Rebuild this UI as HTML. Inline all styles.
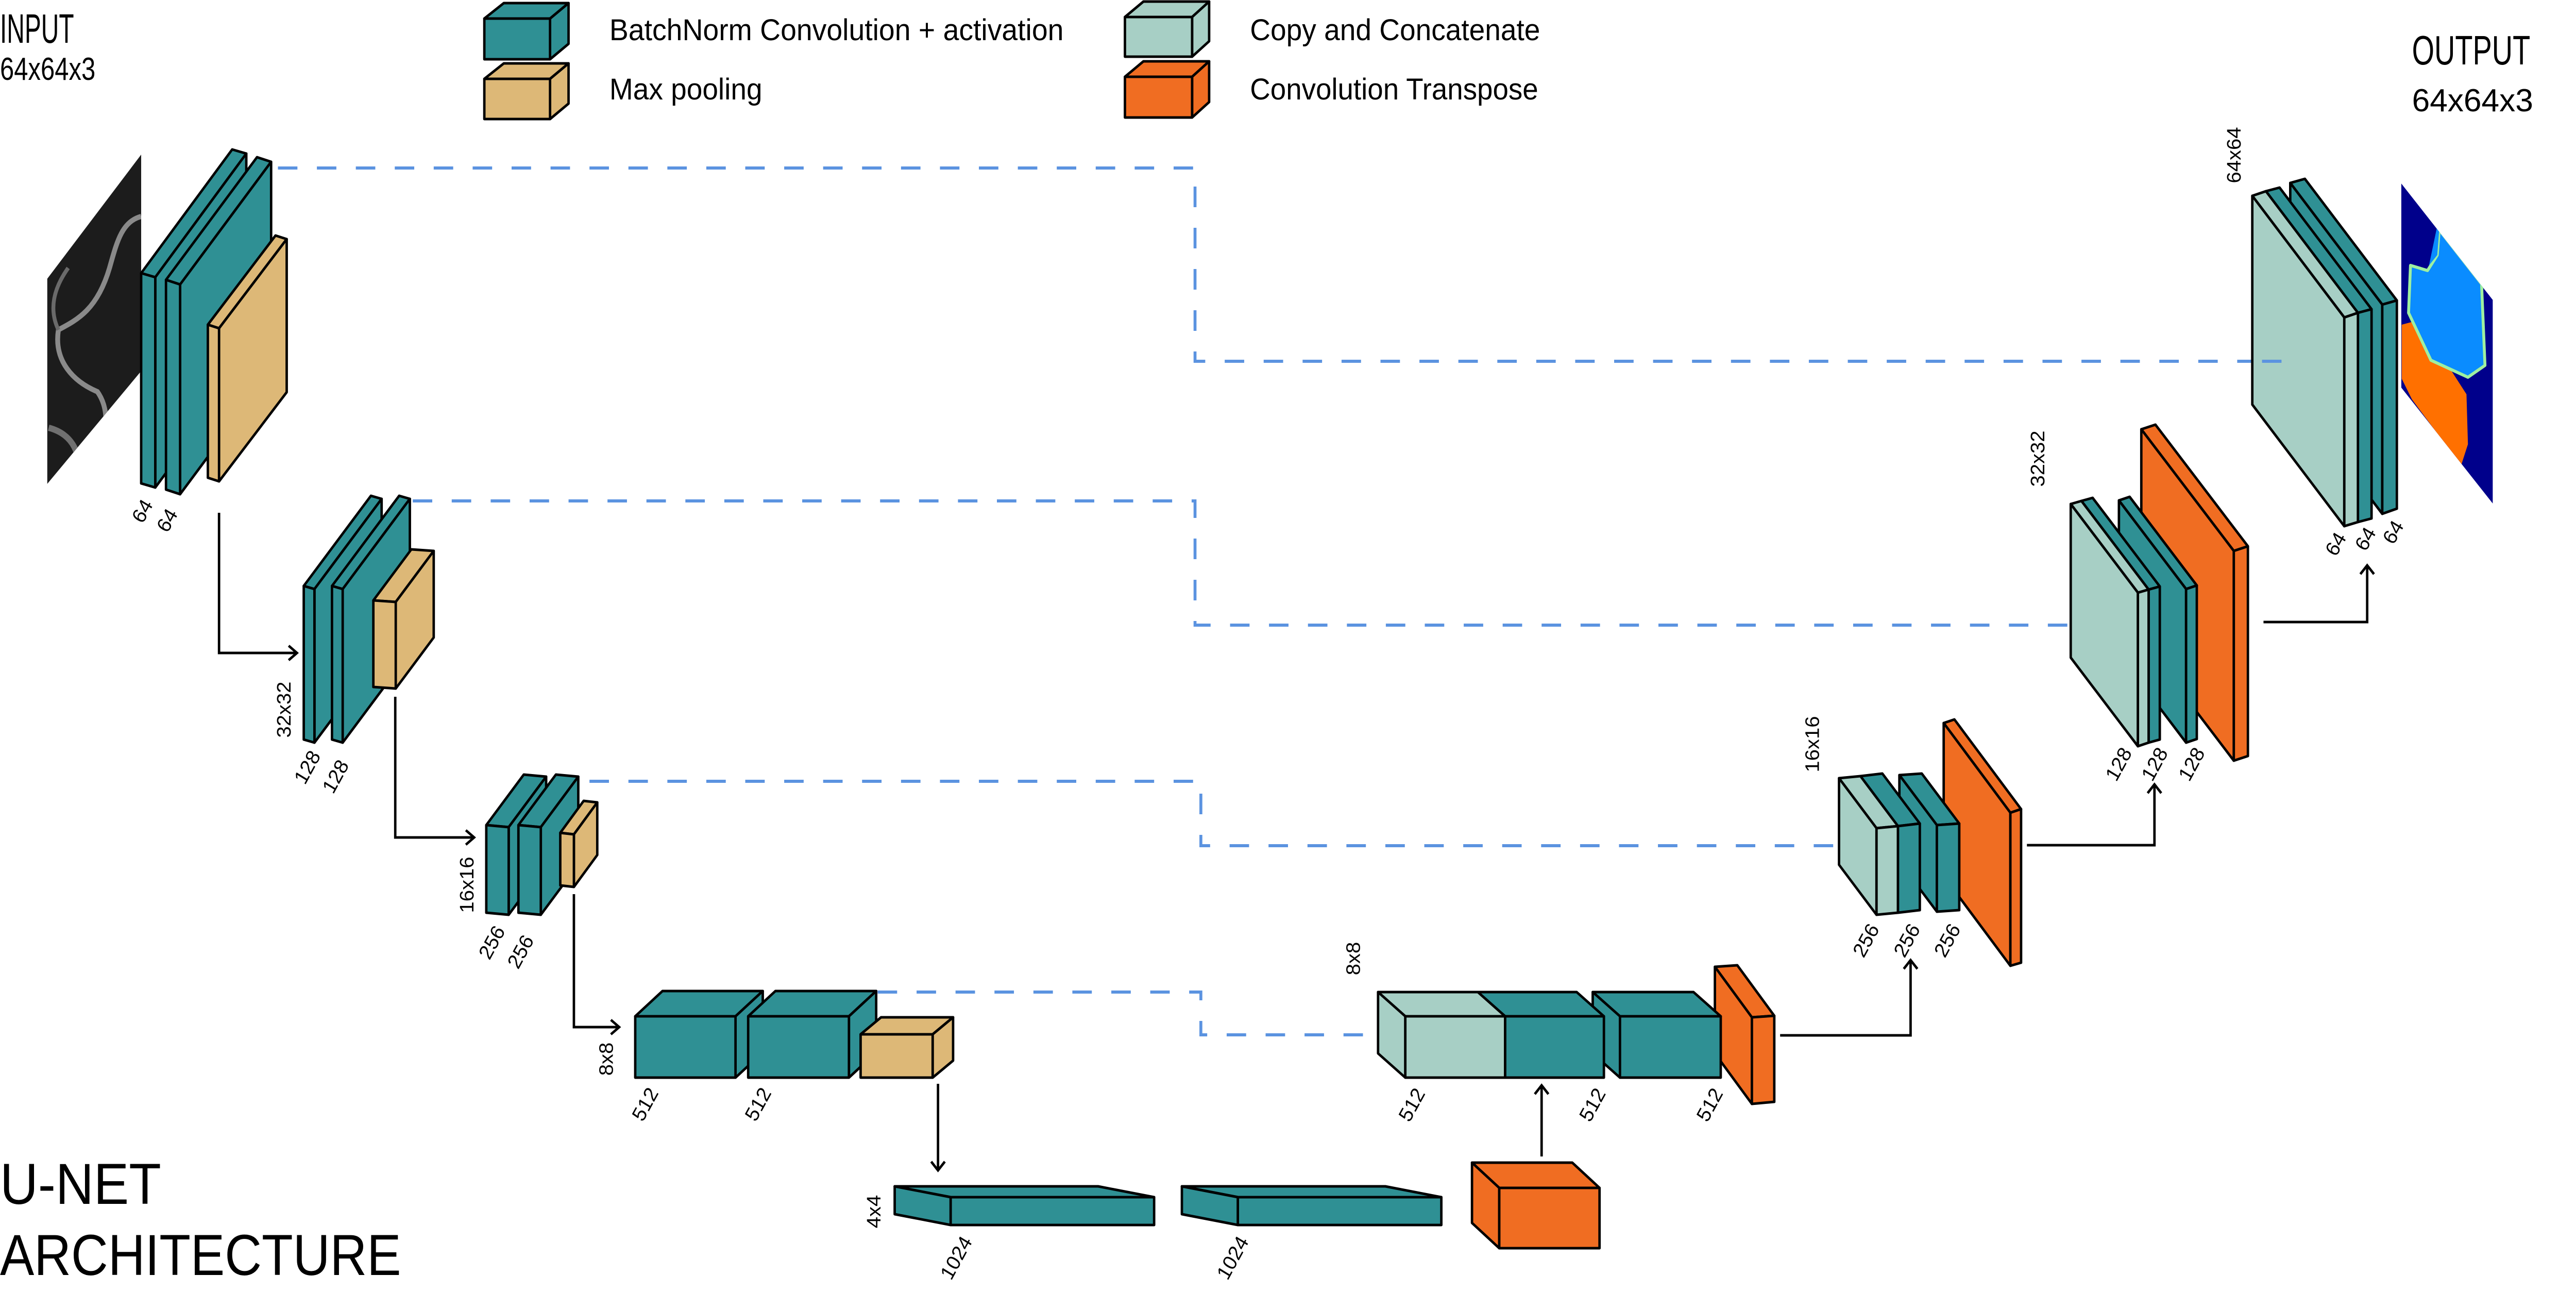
<!DOCTYPE html>
<html><head><meta charset="utf-8"><style>
html,body{margin:0;padding:0;background:#fff;overflow:hidden;width:100vw;height:100vh;}
svg{display:block;position:absolute;left:0;top:0;width:100vw;height:100vh;}
text{font-family:"Liberation Sans",sans-serif;fill:#000;}
.t{fill:#2f9094}.p{fill:#ddb877}.m{fill:#a7cfc5}.o{fill:#f06d22}
polygon{stroke:#000;stroke-width:5;stroke-linejoin:round;}
.d{fill:none;stroke:#5b93e0;stroke-width:6;stroke-dasharray:40 40;}
.a{fill:none;stroke:#000;stroke-width:5;}
.l{font-size:40px;text-anchor:middle;dominant-baseline:central;}
</style></head><body>
<svg viewBox="0 0 5292 2507" preserveAspectRatio="none" xmlns="http://www.w3.org/2000/svg">
<rect width="5292" height="2507" fill="#fff"/>
<text x="0" y="83" font-size="80" textLength="152" lengthAdjust="spacingAndGlyphs">INPUT</text>
<text x="0" y="155" font-size="62" textLength="196" lengthAdjust="spacingAndGlyphs">64x64x3</text>
<text x="4955" y="125" font-size="80" textLength="243" lengthAdjust="spacingAndGlyphs">OUTPUT</text>
<text x="4955" y="216" font-size="62" textLength="249" lengthAdjust="spacingAndGlyphs">64x64x3</text>
<text x="0" y="2336" font-size="112" textLength="331" lengthAdjust="spacingAndGlyphs">U-NET</text>
<text x="0" y="2474" font-size="112" textLength="824" lengthAdjust="spacingAndGlyphs">ARCHITECTURE</text>
<g>
<polygon class="t" points="995,36 1035,6 1168,6 1130,36"/><polygon class="t" points="1130,36 1168,6 1168,85 1130,115"/><polygon class="t" points="995,36 1130,36 1130,115 995,115"/>
<polygon class="p" points="995,153 1035,123 1168,123 1130,153"/><polygon class="p" points="1130,153 1168,123 1168,201 1130,231"/><polygon class="p" points="995,153 1130,153 1130,231 995,231"/>
<polygon class="m" points="2311,33 2349,3 2484,3 2449,33"/><polygon class="m" points="2449,33 2484,3 2484,80 2449,110"/><polygon class="m" points="2311,33 2449,33 2449,110 2311,110"/>
<polygon class="o" points="2311,149 2349,119 2484,119 2449,149"/><polygon class="o" points="2449,149 2484,119 2484,198 2449,228"/><polygon class="o" points="2311,149 2449,149 2449,228 2311,228"/>
<text x="1252" y="78" font-size="58" textLength="933" lengthAdjust="spacingAndGlyphs">BatchNorm Convolution + activation</text>
<text x="1252" y="193" font-size="58" textLength="314" lengthAdjust="spacingAndGlyphs">Max pooling</text>
<text x="2568" y="78" font-size="58" textLength="596" lengthAdjust="spacingAndGlyphs">Copy and Concatenate</text>
<text x="2568" y="193" font-size="58" textLength="592" lengthAdjust="spacingAndGlyphs">Convolution Transpose</text>
</g>
<path class="d" d="M571 326 H2455 V701 H4687"/>
<path class="d" d="M848 972 H2455 V1213 H4289"/>
<path class="d" d="M1211 1516 H2467 V1641 H3798"/>
<path class="d" d="M1803 1925 H2467 V2008 H2820"/>
<defs><clipPath id="ci"><polygon points="97,541 290,300 290,720 97,939" style="stroke:none"/></clipPath>
<clipPath id="co"><polygon points="4933,356 5121,582 5121,977 4933,752" style="stroke:none"/></clipPath></defs>
<g clip-path="url(#ci)">
<rect x="90" y="290" width="210" height="660" fill="#1c1c1c"/>
<path d="M290 420 C250 430 240 470 225 520 C200 600 160 620 120 640 C110 700 150 740 200 760 C230 800 220 860 180 900" fill="none" stroke="#8a8a8a" stroke-width="10"/>
<path d="M120 640 C100 600 110 560 140 520" fill="none" stroke="#6a6a6a" stroke-width="8"/>
<path d="M100 830 C140 840 170 870 160 930" fill="none" stroke="#707070" stroke-width="12"/>
</g>
<polygon class="t" points="290,530 477,290 506,298 319,538"/><polygon class="t" points="319,538 506,298 506,706 319,946"/><polygon class="t" points="290,530 319,538 319,946 290,938"/>
<polygon class="t" points="341,543 528,305 557,314 370,552"/><polygon class="t" points="370,552 557,314 557,721 370,959"/><polygon class="t" points="341,543 370,552 370,959 341,950"/>
<polygon class="p" points="427,630 566,457 589,464 450,637"/><polygon class="p" points="450,637 589,464 589,761 450,934"/><polygon class="p" points="427,630 450,637 450,934 427,927"/>
<polygon class="t" points="624,1137 762,962 784,968 646,1143"/><polygon class="t" points="646,1143 784,968 784,1266 646,1441"/><polygon class="t" points="624,1137 646,1143 646,1441 624,1435"/>
<polygon class="t" points="682,1137 820,962 842,968 704,1143"/><polygon class="t" points="704,1143 842,968 842,1266 704,1441"/><polygon class="t" points="682,1137 704,1143 704,1441 682,1435"/>
<polygon class="p" points="767,1165 845,1066 891,1069 813,1168"/><polygon class="p" points="813,1168 891,1069 891,1237 813,1336"/><polygon class="p" points="767,1165 813,1168 813,1336 767,1333"/>
<polygon class="t" points="999,1601 1076,1503 1122,1507 1045,1605"/><polygon class="t" points="1045,1605 1122,1507 1122,1677 1045,1775"/><polygon class="t" points="999,1601 1045,1605 1045,1775 999,1771"/>
<polygon class="t" points="1065,1601 1142,1503 1188,1507 1111,1605"/><polygon class="t" points="1111,1605 1188,1507 1188,1677 1111,1775"/><polygon class="t" points="1065,1601 1111,1605 1111,1775 1065,1771"/>
<polygon class="p" points="1151,1616 1199,1554 1227,1557 1179,1619"/><polygon class="p" points="1179,1619 1227,1557 1227,1659 1179,1721"/><polygon class="p" points="1151,1616 1179,1619 1179,1721 1151,1718"/>
<polygon class="t" points="1305,1972 1361,1923 1567,1923 1511,1972"/><polygon class="t" points="1511,1972 1567,1923 1567,2042 1511,2091"/><polygon class="t" points="1305,1972 1511,1972 1511,2091 1305,2091"/>
<polygon class="t" points="1537,1972 1593,1923 1800,1923 1744,1972"/><polygon class="t" points="1744,1972 1800,1923 1800,2042 1744,2091"/><polygon class="t" points="1537,1972 1744,1972 1744,2091 1537,2091"/>
<polygon class="p" points="1768,2007 1810,1974 1958,1974 1916,2007"/><polygon class="p" points="1916,2007 1958,1974 1958,2058 1916,2091"/><polygon class="p" points="1768,2007 1916,2007 1916,2091 1768,2091"/>
<polygon class="t" points="1953,2323 1838,2302 2256,2302 2371,2323"/><polygon class="t" points="1953,2323 1838,2302 1838,2356 1953,2377"/><polygon class="t" points="1953,2323 2371,2323 2371,2377 1953,2377"/>
<polygon class="t" points="2543,2323 2428,2302 2846,2302 2961,2323"/><polygon class="t" points="2543,2323 2428,2302 2428,2356 2543,2377"/><polygon class="t" points="2543,2323 2961,2323 2961,2377 2543,2377"/>
<polygon class="o" points="3080,2305 3024,2256 3230,2256 3286,2305"/><polygon class="o" points="3080,2305 3024,2256 3024,2373 3080,2422"/><polygon class="o" points="3080,2305 3286,2305 3286,2422 3080,2422"/>
<polygon class="o" points="3599,1974 3523,1876 3569,1873 3645,1971"/><polygon class="o" points="3599,1974 3523,1876 3523,2044 3599,2142"/><polygon class="o" points="3599,1974 3645,1971 3645,2138 3599,2142"/>
<polygon class="t" points="3328,1972 3272,1925 3479,1925 3535,1972"/><polygon class="t" points="3328,1972 3272,1925 3272,2044 3328,2091"/><polygon class="t" points="3328,1972 3535,1972 3535,2091 3328,2091"/>
<polygon class="t" points="3092,1972 3036,1925 3239,1925 3295,1972"/><polygon class="t" points="3092,1972 3295,1972 3295,2091 3092,2091"/>
<polygon class="m" points="2887,1972 2831,1925 3036,1925 3092,1972"/><polygon class="m" points="2887,1972 2831,1925 2831,2044 2887,2091"/><polygon class="m" points="2887,1972 3092,1972 3092,2091 2887,2091"/>
<polygon class="o" points="4130,1577 3993,1403 4015,1396 4152,1570"/><polygon class="o" points="4130,1577 3993,1403 3993,1700 4130,1874"/><polygon class="o" points="4130,1577 4152,1570 4152,1868 4130,1874"/>
<polygon class="t" points="3979,1601 3902,1504 3948,1501 4025,1598"/><polygon class="t" points="3979,1601 3902,1504 3902,1672 3979,1769"/><polygon class="t" points="3979,1601 4025,1598 4025,1766 3979,1769"/>
<polygon class="t" points="3899,1603 3822,1506 3867,1501 3944,1598"/><polygon class="t" points="3899,1603 3944,1598 3944,1766 3899,1771"/>
<polygon class="m" points="3855,1607 3778,1510 3822,1506 3899,1603"/><polygon class="m" points="3855,1607 3778,1510 3778,1678 3855,1775"/><polygon class="m" points="3855,1607 3899,1603 3899,1771 3855,1775"/>
<polygon class="o" points="4589,1069 4399,833 4428,824 4618,1060"/><polygon class="o" points="4589,1069 4399,833 4399,1240 4589,1476"/><polygon class="o" points="4589,1069 4618,1060 4618,1467 4589,1476"/>
<polygon class="t" points="4491,1143 4353,971 4375,964 4513,1136"/><polygon class="t" points="4491,1143 4353,971 4353,1269 4491,1441"/><polygon class="t" points="4491,1143 4513,1136 4513,1434 4491,1441"/>
<polygon class="t" points="4414,1144 4276,972 4299,966 4437,1138"/><polygon class="t" points="4414,1144 4437,1138 4437,1435 4414,1441"/>
<polygon class="m" points="4392,1150 4254,978 4276,972 4414,1144"/><polygon class="m" points="4392,1150 4254,978 4254,1276 4392,1448"/><polygon class="m" points="4392,1150 4414,1144 4414,1441 4392,1448"/>
<polygon class="t" points="4894,591 4705,355 4735,347 4924,583"/><polygon class="t" points="4894,591 4705,355 4705,761 4894,997"/><polygon class="t" points="4894,591 4924,583 4924,987 4894,997"/>
<polygon class="t" points="4844,607 4655,371 4683,364 4872,600"/><polygon class="t" points="4844,607 4872,600 4872,1006 4844,1013"/>
<polygon class="m" points="4816,616 4627,380 4655,371 4844,607"/><polygon class="m" points="4816,616 4627,380 4627,785 4816,1021"/><polygon class="m" points="4816,616 4844,607 4844,1013 4816,1021"/>
<path class="d" d="M4647 701 H4687"/>
<g clip-path="url(#co)">
<rect x="4925" y="350" width="200" height="630" fill="#00008b"/>
<polygon style="fill:#ff7000;stroke:none" points="4934,630 4966,622 5022,699 5067,765 5070,862 5056,903 4955,775 4934,735"/>
<polygon style="fill:#0a8cff;stroke:#9ff0a0;stroke-width:6" points="5011,446 5098,551 5105,709 5070,732 4994,699 4948,607 4952,515 4987,525 5007,495"/>
<polygon style="fill:#0a8cff;stroke:none" points="5011,420 5130,560 5098,551 5011,446 5007,495 4990,515"/>
</g>
<g class="a">
<path d="M450 995 V1267 H610"/><polyline points="593,1253 610,1267 593,1281"/>
<path d="M812 1352 V1625 H974"/><polyline points="957,1611 974,1625 957,1639"/>
<path d="M1179 1735 V1993 H1272"/><polyline points="1255,1979 1272,1993 1255,2007"/>
<path d="M1927 2103 V2271"/><polyline points="1913,2254 1927,2271 1941,2254"/>
<path d="M3167 2244 V2106"/><polyline points="3153,2123 3167,2106 3181,2123"/>
<path d="M3657 2009 H3925 V1863"/><polyline points="3911,1880 3925,1863 3939,1880"/>
<path d="M4164 1640 H4426 V1522"/><polyline points="4412,1539 4426,1522 4440,1539"/>
<path d="M4650 1207 H4863 V1097"/><polyline points="4849,1114 4863,1097 4877,1114"/>
</g>
<text class="l" transform="translate(293,992) rotate(-60)">64</text>
<text class="l" transform="translate(344,1010) rotate(-60)">64</text>
<text class="l" transform="translate(584,1377) rotate(-90)">32x32</text>
<text class="l" transform="translate(632,1489) rotate(-60)">128</text>
<text class="l" transform="translate(690,1507) rotate(-60)">128</text>
<text class="l" transform="translate(960,1717) rotate(-90)">16x16</text>
<text class="l" transform="translate(1011,1829) rotate(-60)">256</text>
<text class="l" transform="translate(1070,1847) rotate(-60)">256</text>
<text class="l" transform="translate(1246,2055) rotate(-90)">8x8</text>
<text class="l" transform="translate(1326,2143) rotate(-60)">512</text>
<text class="l" transform="translate(1558,2143) rotate(-60)">512</text>
<text class="l" transform="translate(1796,2351) rotate(-90)">4x4</text>
<text class="l" transform="translate(1965,2441) rotate(-60)">1024</text>
<text class="l" transform="translate(2533,2441) rotate(-60)">1024</text>
<text class="l" transform="translate(2781,1860) rotate(-90)">8x8</text>
<text class="l" transform="translate(2901,2144) rotate(-60)">512</text>
<text class="l" transform="translate(3272,2144) rotate(-60)">512</text>
<text class="l" transform="translate(3513,2144) rotate(-60)">512</text>
<text class="l" transform="translate(3724,1444) rotate(-90)">16x16</text>
<text class="l" transform="translate(3834,1825) rotate(-60)">256</text>
<text class="l" transform="translate(3918,1825) rotate(-60)">256</text>
<text class="l" transform="translate(4001,1825) rotate(-60)">256</text>
<text class="l" transform="translate(4187,890) rotate(-90)">32x32</text>
<text class="l" transform="translate(4353,1483) rotate(-60)">128</text>
<text class="l" transform="translate(4427,1483) rotate(-60)">128</text>
<text class="l" transform="translate(4503,1483) rotate(-60)">128</text>
<text class="l" transform="translate(4590,301) rotate(-90)">64x64</text>
<text class="l" transform="translate(4799,1056) rotate(-60)">64</text>
<text class="l" transform="translate(4860,1046) rotate(-60)">64</text>
<text class="l" transform="translate(4917,1033) rotate(-60)">64</text>
</svg>
</body></html>
